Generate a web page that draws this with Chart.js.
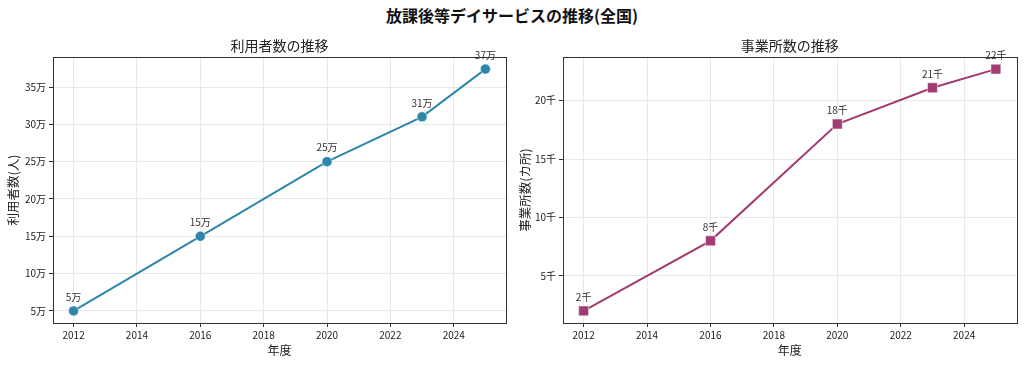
<!DOCTYPE html>
<html>
<head>
<meta charset="utf-8">
<script src="https://cdn.jsdelivr.net/npm/chart.js@4.4.1/dist/chart.umd.min.js"></script>
<style>
  body { margin: 0; background: #fff; width: 1024px; height: 365px; overflow: hidden; position: relative;
         font-family: "Noto Sans CJK JP", "Noto Sans", sans-serif; }
  #mainTitle { position: absolute; top: 3px; left: 0; width: 1024px; text-align: center;
               font-weight: bold; font-size: 16px; color: #111; }
  .box { position: absolute; top: 0; width: 512px; height: 365px; }
</style>
</head>
<body>
<div id="mainTitle">放課後等デイサービスの推移(全国)</div>
<div class="box" style="left:0"><canvas id="usersChart" width="512" height="365"></canvas></div>
<div class="box" style="left:512px"><canvas id="officesChart" width="512" height="365"></canvas></div>
<script>
// データ（利用者数は万人、事業所数は千カ所）
const years = [2012, 2016, 2020, 2023, 2025];
const users = [5.0, 15.0, 25.0, 31.0, 37.4];
const offices = [2.0, 8.0, 18.0, 21.1, 22.7];
const yearTicks = [2012, 2014, 2016, 2018, 2020, 2022, 2024];
const userTicks = [5, 10, 15, 20, 25, 30, 35];
const officeTicks = [5, 10, 15, 20];

const FONT = '"Noto Sans CJK JP", "Noto Sans", sans-serif';

// matplotlibの余白(5%)と同じ範囲を計算
function range(vals) {
    const lo = Math.min(...vals), hi = Math.max(...vals);
    const m = (hi - lo) * 0.05;
    return [lo - m, hi + m];
}

// 枠線・サブタイトル・値ラベル
const framePlugin = {
    id: 'frame',
    afterDraw(chart) {
        const a = chart.chartArea, ctx = chart.ctx;
        ctx.save();
        ctx.strokeStyle = '#333';
        ctx.lineWidth = 1;
        ctx.strokeRect(Math.round(a.left) + 0.5, Math.round(a.top) + 0.5,
                       Math.round(a.right - a.left), Math.round(a.bottom - a.top));
        ctx.fillStyle = '#222';
        ctx.font = '14px ' + FONT;
        ctx.textAlign = 'center';
        ctx.textBaseline = 'middle';
        ctx.fillText(chart.options.plugins.subTitle, (a.left + a.right) / 2, 46);
        ctx.restore();
    },
    afterDatasetsDraw(chart) {
        const ctx = chart.ctx;
        const unit = chart.options.plugins.unit;
        const ds = chart.data.datasets[0];
        ctx.save();
        ctx.fillStyle = '#333';
        ctx.font = '10px ' + FONT;
        ctx.textAlign = 'center';
        ctx.textBaseline = 'middle';
        chart.getDatasetMeta(0).data.forEach((pt, i) => {
            // 整数部分だけ表示
            ctx.fillText(Math.floor(ds.data[i].y) + unit, pt.x, pt.y - 14);
        });
        ctx.restore();
    }
};

function makeChart(id, opt) {
    const [xmin, xmax] = range(years);
    const [ymin, ymax] = range(opt.values);
    return new Chart(document.getElementById(id), {
        type: 'line',
        data: {
            datasets: [{
                data: years.map((y, i) => ({ x: y, y: opt.values[i] })),
                borderColor: opt.color,
                backgroundColor: opt.color,
                borderWidth: 2,
                pointStyle: opt.pointStyle,
                pointRadius: opt.pointRadius,
                pointBackgroundColor: opt.color,
                pointBorderColor: '#fff',
                pointBorderWidth: 0.5,
                tension: 0
            }]
        },
        options: {
            responsive: false,
            animation: false,
            layout: { padding: { top: 57, right: opt.padRight, left: 0, bottom: 0 } },
            plugins: {
                legend: { display: false },
                tooltip: { enabled: false },
                subTitle: opt.title,
                unit: opt.unit
            },
            scales: {
                x: {
                    type: 'linear',
                    min: xmin, max: xmax,
                    afterBuildTicks: s => { s.ticks = yearTicks.map(v => ({ value: v })); },
                    afterFit: s => { s.height = 42; },
                    ticks: {
                        color: '#222', font: { family: FONT, size: 10 }, padding: 2,
                        maxRotation: 0, callback: v => String(v)
                    },
                    grid: { color: '#e8e8e8', tickColor: '#333', tickLength: 4 },
                    border: { display: false },
                    title: {
                        display: true, text: '年度', color: '#222',
                        font: { family: FONT, size: 12 }, padding: { top: 0, bottom: 7 }
                    }
                },
                y: {
                    type: 'linear',
                    min: ymin, max: ymax,
                    afterBuildTicks: s => { s.ticks = opt.ticks.map(v => ({ value: v })); },
                    afterFit: s => { s.width = opt.axisWidth; },
                    ticks: {
                        color: '#222', font: { family: FONT, size: 10 }, padding: 3,
                        callback: v => v + opt.unit
                    },
                    grid: { color: '#e8e8e8', tickColor: '#333', tickLength: 4 },
                    border: { display: false },
                    title: {
                        display: true, text: opt.yTitle, color: '#222',
                        font: { family: FONT, size: 12.5 }, padding: { top: 6, bottom: 0 }
                    }
                }
            }
        },
        plugins: [framePlugin]
    });
}

makeChart('usersChart', {
    values: users, ticks: userTicks, unit: '万', color: '#2E86AB',
    pointStyle: 'circle', pointRadius: 5, title: '利用者数の推移', yTitle: '利用者数(人)',
    axisWidth: 53, padRight: 6
});
makeChart('officesChart', {
    values: offices, ticks: officeTicks, unit: '千', color: '#A23B72',
    pointStyle: 'rect', pointRadius: 7, title: '事業所数の推移', yTitle: '事業所数(カ所)',
    axisWidth: 51, padRight: 7
});
</script>
</body>
</html>
